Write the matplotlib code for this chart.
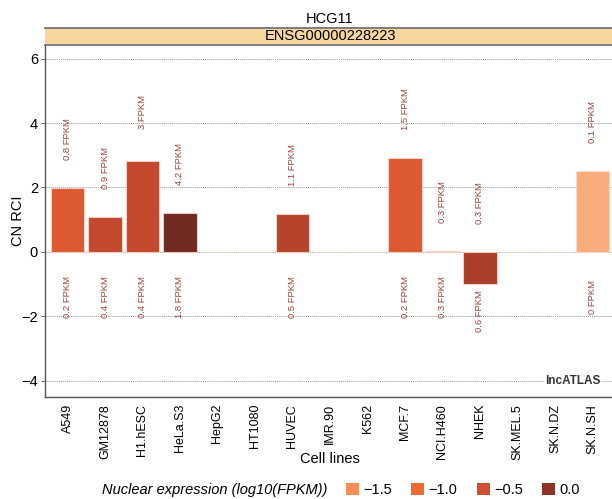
import numpy as np
import matplotlib
matplotlib.use("Agg")
import matplotlib.pyplot as plt
from matplotlib.colors import LinearSegmentedColormap, Normalize
from matplotlib.patches import Patch

plt.rcParams['font.family'] = ['Liberation Sans', 'DejaVu Sans']

# data
cell_lines = ['A549', 'GM12878', 'H1.hESC', 'HeLa.S3', 'HepG2', 'HT1080', 'HUVEC',
              'IMR.90', 'K562', 'MCF.7', 'NCI.H460', 'NHEK', 'SK.MEL.5', 'SK.N.DZ', 'SK.N.SH']
cn_rci = [1.97, 1.08, 2.82, 1.20, np.nan, np.nan, 1.18,
          np.nan, np.nan, 2.91, 0.02, -0.99, np.nan, np.nan, 2.51]
nuc_log10 = [-0.70, -0.40, -0.40, 0.26, np.nan, np.nan, -0.30,
             np.nan, np.nan, -0.70, -0.52, -0.22, np.nan, np.nan, -1.85]
cyto_lab = ['0.8 FPKM', '0.9 FPKM', '3 FPKM', '4.2 FPKM', '', '', '1.1 FPKM',
            '', '', '1.5 FPKM', '0.3 FPKM', '0.3 FPKM', '', '', '0.1 FPKM']
nuc_lab = ['0.2 FPKM', '0.4 FPKM', '0.4 FPKM', '1.8 FPKM', '', '', '0.5 FPKM',
           '', '', '0.2 FPKM', '0.3 FPKM', '0.6 FPKM', '', '', '0 FPKM']
legend_vals = [-1.5, -1.0, -0.5, 0.0]

cmap = LinearSegmentedColormap.from_list(
    'nuc', [(0.0, '#FBB98A'), (0.5 / 2.3, '#F58E5A'), (1.0 / 2.3, '#EE6A2E'),
            (1.5 / 2.3, '#D24E30'), (2.0 / 2.3, '#8E3226'), (1.0, '#6E2820')])
norm = Normalize(-2.0, 0.3)

fig = plt.figure(figsize=(6.12, 4.99), dpi=100)
ax = fig.add_axes([45 / 612, 102 / 499, 570 / 612, 352 / 499])

x = np.arange(len(cell_lines))
vals = np.array(cn_rci)
cols = [cmap(norm(v)) if not np.isnan(v) else (0, 0, 0, 0) for v in nuc_log10]
ax.bar(x, np.nan_to_num(vals), width=0.9, color=cols,
       edgecolor=(1, 0.85, 0.8, 0.8), linewidth=0.8, zorder=3)

lab_col = '#A0433A'
for i, v in enumerate(vals):
    if np.isnan(v):
        continue
    ax.text(i, max(v, 0) + 1.53, cyto_lab[i], rotation=90, ha='center', va='center',
            fontsize=6.8, color=lab_col, zorder=4)
    ylow = -1.4 if v >= 0 else v - 0.85
    ax.text(i, ylow, nuc_lab[i], rotation=90, ha='center', va='center',
            fontsize=6.8, color=lab_col, zorder=4)

ax.set_xlim(-0.6, 14.6)
ax.set_ylim(-4.5, 6.42)
ax.set_yticks([-4, -2, 0, 2, 4, 6])
ax.set_yticklabels(['\u22124', '\u22122', '0', '2', '4', '6'])
for yv in [-4, -2, 0, 2, 4, 6]:
    ax.axhline(yv, color='#9a9a9a', lw=0.7, ls=(0, (1, 1)), zorder=1)
ax.set_xticks(x)
ax.set_xticklabels(cell_lines, rotation=90, fontsize=9)
ax.tick_params(axis='x', length=0, pad=5)
ax.tick_params(axis='y', length=3, width=0.6, color='#555555', labelsize=10.5, pad=2)
ax.set_ylabel('CN RCI', fontsize=10.5, va='center')
ax.yaxis.set_label_coords(-0.047, 0.5)
ax.set_xlabel('Cell lines', fontsize=10.5, va='center')
ax.xaxis.set_label_coords(0.5, -0.175)
ax.spines['top'].set_visible(False)
ax.spines['right'].set_visible(False)
ax.spines['left'].set_color('#555555')
ax.spines['bottom'].set_color('#555555')
ax.spines['left'].set_linewidth(1.0)
ax.spines['bottom'].set_linewidth(1.0)

ax.text(14.2, -4.0, 'lncATLAS', ha='right', va='center', fontsize=8.5, fontweight='bold',
        color='#333333', zorder=5,
        bbox=dict(facecolor='white', edgecolor='none', pad=0.5))

# facet strip
sax = fig.add_axes([45 / 612, 454 / 499, 570 / 612, 17 / 499])
sax.set_facecolor('#F6D59E')
sax.set_xticks([])
sax.set_yticks([])
for s in ['left', 'right']:
    sax.spines[s].set_visible(False)
for s in ['top', 'bottom']:
    sax.spines[s].set_color('#6b6b6b')
    sax.spines[s].set_linewidth(1.2)
sax.text(285 / 570, 0.5, 'ENSG00000228223', transform=sax.transAxes,
         ha='center', va='center', fontsize=10.5)
fig.text(330 / 612, 480 / 499, 'HCG11', ha='center', va='center', fontsize=10.5)

# legend
fig.text(102 / 612, 9 / 499, 'Nuclear expression (log10(FPKM))', style='italic',
         ha='left', va='center', fontsize=10.5)
handles = [Patch(facecolor=cmap(norm(v)), edgecolor='none') for v in legend_vals]
labels = ['\u22121.5', '\u22121.0', '\u22120.5', '0.0']
fig.legend(handles, labels, ncol=4, loc='center left',
           bbox_to_anchor=(346 / 612, 9 / 499), frameon=False, fontsize=10.5,
           handlelength=0.9, handleheight=0.9, handletextpad=0.3,
           columnspacing=1.3, borderpad=0, borderaxespad=0)

fig.savefig('out.png', dpi=100)
